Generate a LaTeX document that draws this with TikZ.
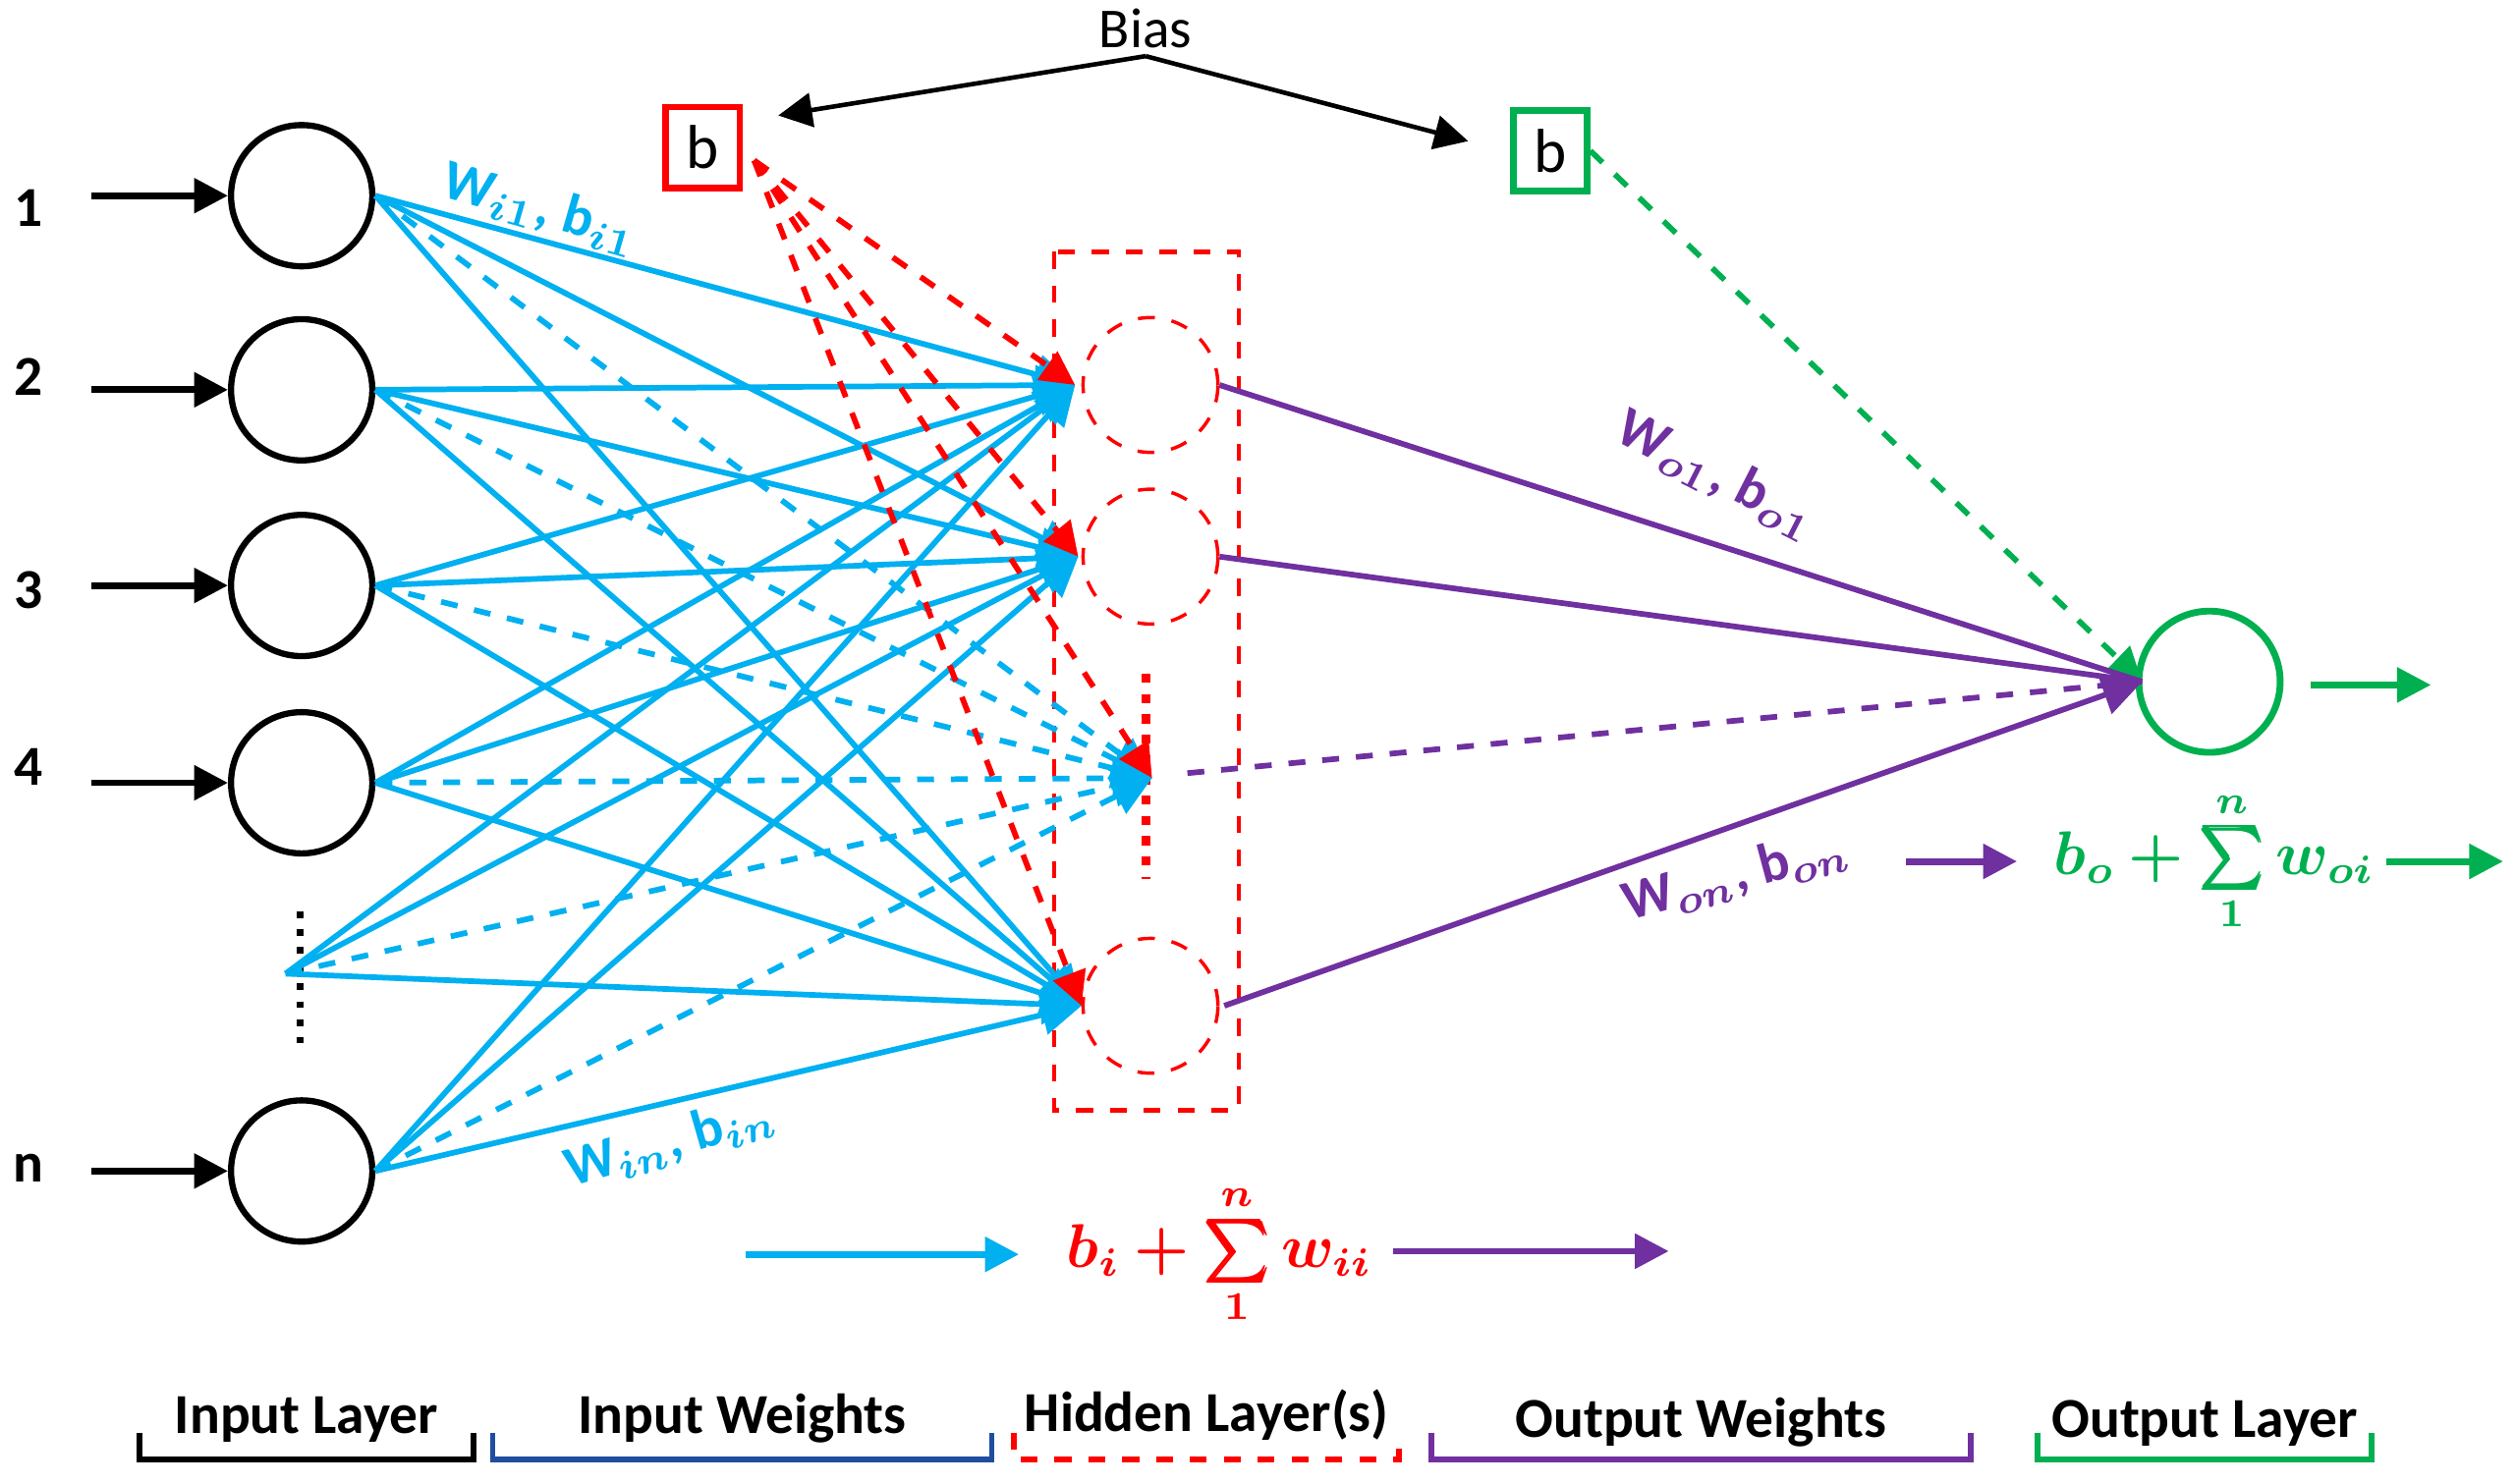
\documentclass[tikz,border=0pt]{standalone}
\usepackage{fontspec}
\usepackage{amsmath,bm}
\setmainfont{Carlito}
\usetikzlibrary{arrows.meta}
\definecolor{cb}{RGB}{0,176,240}
\definecolor{cr}{RGB}{255,0,0}
\definecolor{cg}{RGB}{0,176,80}
\definecolor{cp}{RGB}{112,48,160}
\definecolor{cdb}{RGB}{31,78,160}
\begin{document}
\begin{tikzpicture}[x=0.01cm,y=-0.01cm,
 inn/.style={circle,draw,line width=1.1pt,minimum size=0.88cm,inner sep=0},
 hid/.style={circle,draw=cr,dashed,line width=0.6pt,minimum size=0.84cm,inner sep=0},
 bl/.style={cb,line width=1pt,-{Triangle[length=7pt,width=7pt]}},
 rb/.style={cr,line width=1pt,dashed,-{Triangle[length=6pt,width=6pt]}},
 pl/.style={cp,line width=1pt},
 ar/.style={line width=1.2pt,-{Triangle[length=6pt,width=6pt]}},
 lab/.style={font=\bfseries\fontsize{10}{12}\selectfont},
 br/.style={line width=1pt}]
\useasboundingbox (0,0) rectangle (1568,925);
% input nodes
\foreach \n/\y/\t/\ty in {1/122/1/130,2/243/2/235,3/365/3/368,4/488/4/478,5/730/n/728}{
 \node[inn] (i\n) at (188,\y) {};
 \node[lab] (t\n) at (18,\ty) {\t};
 \coordinate (s\n) at (57,\y);
 \draw[ar] (s\n) -- (i\n.west);
}
\coordinate (dots) at (178,607);
\draw[line width=1.2pt,dotted] (187,568) -- (187,650);
% hidden
\draw[cr,dashed,line width=0.8pt] (657,157) rectangle (772,692);
\node[hid] (h1) at (717,240) {};
\node[hid] (h2) at (717,347) {};
\node[hid] (h4) at (717,627) {};
\coordinate (hm) at (718,485);
\draw[cr,line width=1.6pt,dotted] (714,420) -- (714,548);
\coordinate (h1w) at (670,240); \coordinate (h2w) at (672,347); \coordinate (h4w) at (674,627);
% blue connections
\foreach \s in {i1.east,i2.east,i3.east,i4.east,i5.east,dots}{
 \draw[bl] (\s) -- (h1w);
 \draw[bl] (\s) -- (h2w);
 \draw[bl] (\s) -- (h4w);
 \draw[bl,dashed] (\s) -- (hm);
}
% bias
\node[draw=cr,line width=1.2pt,minimum size=0.46cm,font=\fontsize{11}{13}\selectfont] (b1) at (438,92) {b};
\node[draw=cg,line width=1.2pt,minimum size=0.46cm,font=\fontsize{11}{13}\selectfont] (b2) at (966,94) {b};
\coordinate (bs) at (470,100);
\foreach \t in {h1w,h2w,hm,h4w} \draw[rb] (bs) -- (\t);
\node[font=\fontsize{10}{12}\selectfont] (bias) at (714,18) {Bias};
\coordinate (bj) at (714,35);
\draw[line width=0.8pt,-{Triangle[length=6pt,width=6pt]}] (bj) -- (485,72);
\draw[line width=0.8pt,-{Triangle[length=6pt,width=6pt]}] (bj) -- (915,88);
% output
\node[circle,draw=cg,line width=1.2pt,minimum size=0.88cm,inner sep=0] (o) at (1377,425) {};
\coordinate (ow) at (1335,425);
\draw[cg,line width=1pt,dashed,-{Triangle[length=6pt,width=6pt]}] (b2.east) -- (ow);
\draw[pl] (760,240) -- (ow);
\draw[pl] (760,347) -- (ow);
\draw[pl,dashed] (740,482) -- (ow);
\draw[pl,-{Triangle[length=7pt,width=7pt]}] (763,627) -- (ow);
% weight labels
\node[cb,lab,rotate=-16] (l1) at (337,130) {W$_{\bm{\scriptstyle i1}}$, b$_{\bm{\scriptstyle i1}}$};
\node[cb,lab,rotate=16] (l2) at (418,712) {W$_{\bm{in}}$, b$_{\bm{in}}$};
\node[cp,lab,rotate=-27] (l3) at (1070,296) {W$_{\bm{o1}}$, b$_{\bm{o1}}$};
\node[cp,lab,rotate=15] (l4) at (1082,546) {W$_{\bm{on}}$, b$_{\bm{on}}$};
% formulas
\coordinate (a1) at (465,782); \coordinate (a2) at (635,782);
\draw[ar,cb] (a1) -- (a2);
\node[cr,font=\fontsize{10.5}{12}\selectfont] (f1) at (760,782) {$\bm{b_i+\sum\limits_{1}^{n} w_{ii}}$};
\coordinate (a3) at (868,780); \coordinate (a4) at (1040,780);
\draw[ar,cp] (a3) -- (a4);
\coordinate (a5) at (1188,537); \coordinate (a6) at (1257,537);
\draw[ar,cp] (a5) -- (a6);
\node[cg,font=\fontsize{10.5}{12}\selectfont] (f2) at (1380,537) {$\bm{b_o+\sum\limits_{1}^{n} w_{oi}}$};
\coordinate (a7) at (1487,537); \coordinate (a8) at (1560,537);
\draw[ar,cg] (a7) -- (a8);
\coordinate (a9) at (1440,427); \coordinate (a10) at (1515,427);
\draw[ar,cg] (a9) -- (a10);
% bottom labels
\foreach \xa/\xb/\c/\st/\t/\ty in {87/295/black/solid/Input Layer/885,307/618/cdb/solid/Input Weights/884,632/872/cr/dashed/Hidden Layer(s)/882,892/1228/cp/solid/Output Weights/887,1270/1478/cg/solid/Output Layer/887}{
 \draw[br,\c,\st] (\xa,893) -- (\xa,910) -- (\xb,910) -- (\xb,893);
 \node[lab] at ({(\xa+\xb)/2},\ty) {\t};
}
\end{tikzpicture}
\end{document}
